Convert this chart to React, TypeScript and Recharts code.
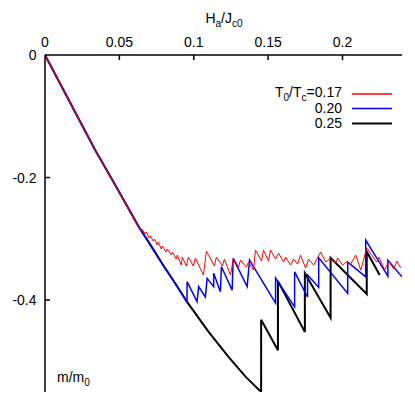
import React from "react";
import { LineChart, Line, XAxis, YAxis } from "recharts";

// T0/Tc = 0.25 (black)
const blackX = [0, 0.0337, 0.0472, 0.0629, 0.0696, 0.0786, 0.0876, 0.0955, 0.11, 0.1235, 0.1348, 0.1453, 0.1453, 0.1566, 0.1566, 0.1747, 0.1747, 0.192, 0.192, 0.2163, 0.2163, 0.225];
const blackY = [0, -0.155, -0.212, -0.28, -0.305, -0.34, -0.373, -0.403, -0.452, -0.493, -0.525, -0.55, -0.432, -0.482, -0.369, -0.452, -0.356, -0.429, -0.331, -0.39, -0.321, -0.359];

// T0/Tc = 0.20 (blue)
const blueX = [0, 0.0337, 0.0472, 0.0629, 0.0696, 0.0786, 0.0876, 0.0955, 0.0955, 0.1022, 0.1033, 0.1078, 0.109, 0.1134, 0.1134, 0.1179, 0.1186, 0.1258, 0.1265, 0.1359, 0.1375, 0.155, 0.155, 0.1678, 0.1678, 0.1765, 0.1765, 0.184, 0.184, 0.2035, 0.2035, 0.2156, 0.2156, 0.2305, 0.2305, 0.24];
const blueY = [0, -0.155, -0.212, -0.28, -0.305, -0.34, -0.373, -0.403, -0.37, -0.4026, -0.378, -0.395, -0.3646, -0.378, -0.356, -0.3865, -0.3456, -0.3837, -0.332, -0.378, -0.3347, -0.405, -0.364, -0.411, -0.354, -0.395, -0.359, -0.379, -0.331, -0.389, -0.338, -0.362, -0.302, -0.361, -0.335, -0.362];

// T0/Tc = 0.17 (red)
const redX = [0, 0.0337, 0.0472, 0.0627, 0.0647, 0.0654, 0.0674, 0.0681, 0.0701, 0.0708, 0.0728, 0.0735, 0.0755, 0.0761, 0.0782, 0.0788, 0.0815, 0.0822, 0.0849, 0.0856, 0.0883, 0.0889, 0.0916, 0.0923, 0.095, 0.0964, 0.0997, 0.1011, 0.1065, 0.1085, 0.1139, 0.1152, 0.1193, 0.1206, 0.1247, 0.1267, 0.1301, 0.1314, 0.1354, 0.1368, 0.1402, 0.1415, 0.1456, 0.1469, 0.1503, 0.1516, 0.155, 0.157, 0.1604, 0.1617, 0.1651, 0.1671, 0.1698, 0.1718, 0.1752, 0.1772, 0.1806, 0.1853, 0.1887, 0.192, 0.1954, 0.1968, 0.2001, 0.2022, 0.2055, 0.2089, 0.2123, 0.2163, 0.223, 0.2244, 0.2284, 0.2311, 0.2345, 0.2365, 0.2392];
const redY = [0, -0.155, -0.212, -0.2808, -0.2873, -0.2841, -0.2922, -0.289, -0.2988, -0.2955, -0.3037, -0.3004, -0.3102, -0.3053, -0.3167, -0.3118, -0.3216, -0.3167, -0.3265, -0.3216, -0.3331, -0.3265, -0.3429, -0.3298, -0.3445, -0.3298, -0.3445, -0.3314, -0.3592, -0.32, -0.3445, -0.3298, -0.3445, -0.3331, -0.3592, -0.3314, -0.3461, -0.3347, -0.3461, -0.338, -0.351, -0.3184, -0.3363, -0.3184, -0.3363, -0.3184, -0.3331, -0.3233, -0.338, -0.3298, -0.3429, -0.3331, -0.3412, -0.3265, -0.3478, -0.3331, -0.3429, -0.3216, -0.338, -0.3314, -0.3396, -0.3314, -0.3429, -0.338, -0.3412, -0.3265, -0.351, -0.3151, -0.338, -0.3298, -0.351, -0.3363, -0.3494, -0.3363, -0.3478];

const xTicks = [0, 0.05, 0.1, 0.15, 0.2];
const yTicks = [0, -0.2, -0.4];

const FONT = "'Liberation Sans', Arial, Helvetica, sans-serif";

const toPoints = (xs: number[], ys: number[]) => xs.map((x, i) => ({ x, y: ys[i] }));

const TopTick = (props: any) => {
  const { x, y, payload } = props;
  return (
    <g>
      {payload.value !== 0 && (
        <line x1={x} y1={y} x2={x} y2={y + 5} stroke="#000" strokeWidth={1.5} />
      )}
      <text x={x} y={y - 8.5} textAnchor="middle" fontSize={14} fontFamily={FONT} fill="#000">
        {String(payload.value)}
      </text>
    </g>
  );
};

const LeftTick = (props: any) => {
  const { x, y, payload } = props;
  return (
    <g>
      {payload.value !== 0 && (
        <line x1={x} y1={y} x2={x + 5} y2={y} stroke="#000" strokeWidth={1.5} />
      )}
      <text x={x - 8.5} y={y + 5} textAnchor="end" fontSize={14} fontFamily={FONT} fill="#000">
        {String(payload.value)}
      </text>
    </g>
  );
};

const Overlay = () => (
  <svg
    width={415}
    height={415}
    style={{ position: "absolute", left: 0, top: 0, pointerEvents: "none" }}
  >
    <g fontFamily={FONT} fontSize={14} fill="#000">
      <text x={224} y={23} textAnchor="middle">
        H<tspan dy={4} fontSize={10}>a</tspan>
        <tspan dy={-4}>/J</tspan>
        <tspan dy={4} fontSize={10}>c0</tspan>
      </text>
      <text x={57} y={382}>
        m/m<tspan dy={4} fontSize={10}>0</tspan>
      </text>
      <text x={342} y={97} textAnchor="end">
        T<tspan dy={4} fontSize={10}>0</tspan>
        <tspan dy={-4}>/T</tspan>
        <tspan dy={4} fontSize={10}>c</tspan>
        <tspan dy={-4}>=0.17</tspan>
      </text>
      <text x={342} y={113} textAnchor="end">0.20</text>
      <text x={342} y={128} textAnchor="end">0.25</text>
    </g>
    <line x1={352} y1={94} x2={392} y2={94} stroke="#ff0000" strokeWidth={1.5} />
    <line x1={352} y1={108.5} x2={392} y2={108.5} stroke="#0000ff" strokeWidth={1.5} />
    <line x1={352} y1={123.5} x2={392} y2={123.5} stroke="#000" strokeWidth={2} />
  </svg>
);

export default function App() {
  return (
    <div style={{ position: "absolute", left: 0, top: 0, width: 415, height: 415, background: "#fff" }}>
      <LineChart width={415} height={415} margin={{ top: 25, right: 13, bottom: 23, left: 5 }}>
        <XAxis
          dataKey="x"
          type="number"
          orientation="top"
          height={30}
          domain={[0, 0.24]}
          allowDataOverflow
          ticks={xTicks}
          interval={0}
          tickSize={0}
          tickMargin={0}
          tickLine={false}
          axisLine={{ stroke: "#000", strokeWidth: 1.5 }}
          tick={<TopTick />}
        />
        <YAxis
          dataKey="y"
          type="number"
          width={40}
          domain={[-0.55, 0]}
          allowDataOverflow
          ticks={yTicks}
          interval={0}
          tickSize={0}
          tickMargin={0}
          tickLine={false}
          axisLine={{ stroke: "#000", strokeWidth: 1.5 }}
          tick={<LeftTick />}
        />
        <Line
          data={toPoints(blackX, blackY)}
          dataKey="y"
          type="linear"
          stroke="#000"
          strokeWidth={2}
          dot={false}
          isAnimationActive={false}
        />
        <Line
          data={toPoints(blueX, blueY)}
          dataKey="y"
          type="linear"
          stroke="#0000ff"
          strokeWidth={1.5}
          dot={false}
          isAnimationActive={false}
        />
        <Line
          data={toPoints(redX, redY)}
          dataKey="y"
          type="linear"
          stroke="#ff0000"
          strokeWidth={1}
          dot={false}
          isAnimationActive={false}
        />
      </LineChart>
      <Overlay />
    </div>
  );
}
